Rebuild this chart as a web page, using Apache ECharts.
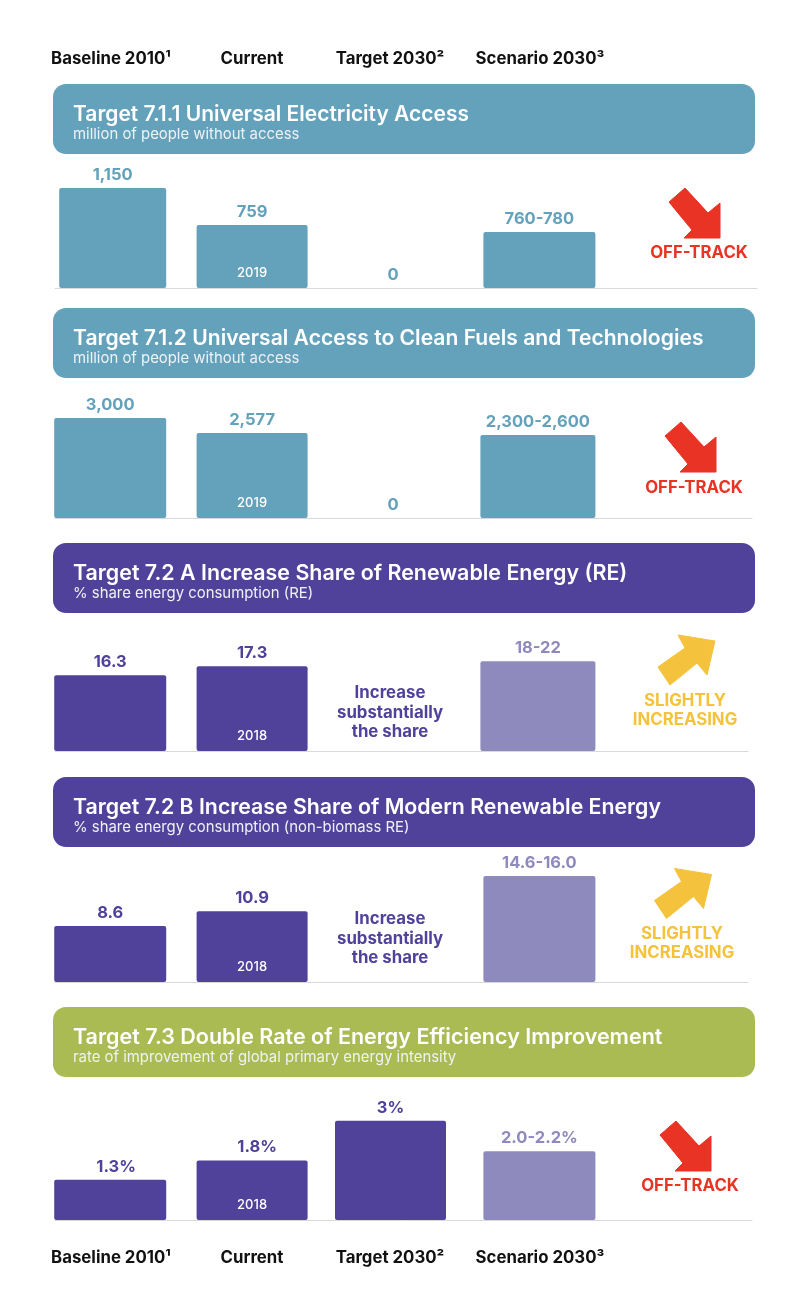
<!DOCTYPE html>
<html>
<head>
<meta charset="utf-8">
<title>SDG 7 targets</title>
<script src="https://cdn.jsdelivr.net/npm/echarts@6/dist/echarts.min.js"></script>
<style>
    html, body { margin: 0; padding: 0; background: #fff; }
    #chart { width: 806px; height: 1305px; }
</style>
</head>
<body>
<div id="chart"></div>
<script>
const categories = ['Baseline 2010¹', 'Current', 'Target 2030²', 'Scenario 2030³'];
const bandNames = categories.concat(['Trend']);

const titles = [
    'Target 7.1.1 Universal Electricity Access',
    'Target 7.1.2 Universal Access to Clean Fuels and Technologies',
    'Target 7.2 A Increase Share of Renewable Energy (RE)',
    'Target 7.2 B Increase Share of Modern Renewable Energy',
    'Target 7.3 Double Rate of Energy Efficiency Improvement'
];
const subtitles = [
    'million of people without access',
    'million of people without access',
    '% share energy consumption (RE)',
    '% share energy consumption (non-biomass RE)',
    'rate of improvement of global primary energy intensity'
];

// bar heights as drawn; the infographic is not strictly to scale, so these differ a bit from the printed labels
const electricityBars = [1150, 725, 0, 644];
const cleanFuelBars = [3000, 2550, 0, 2490];
const renewableBars = [16.3, 18.2, null, 19.3];
const modernBars = [8.6, 10.9, null, 16.3];
const efficiencyBars = [1.22, 1.8, 3, 2.08];

const electricityLabels = ['1,150', '759', '0', '760-780'];
const cleanFuelLabels = ['3,000', '2,577', '0', '2,300-2,600'];
const renewableLabels = ['16.3', '17.3', '', '18-22'];
const modernLabels = ['8.6', '10.9', '', '14.6-16.0'];
const efficiencyLabels = ['1.3%', '1.8%', '3%', '2.0-2.2%'];

const years = ['2019', '2019', '2018', '2018', '2018'];
const statuses = ['OFF-TRACK', 'OFF-TRACK', 'SLIGHTLY\nINCREASING', 'SLIGHTLY\nINCREASING', 'OFF-TRACK'];
const targetNote = ['Increase', 'substantially', 'the share'];

const TEAL = '#64a1bb';
const PURPLE = '#50429a';
const LILAC = '#8e8abd';
const GREEN = '#a9bb52';
const RED = '#e93324';
const YELLOW = '#f4c23c';
const FONT = 'Inter, "Noto Sans", sans-serif';

const panels = [
    { bars: electricityBars, labels: electricityLabels, head: TEAL, colors: [TEAL, TEAL, TEAL, TEAL], headTop: 84, base: 288, max: 1380, height: 120, width: 702, titleSize: 21,
        spans: [[-66, 41], [-69, 42], [-66, 40], [-63, 49]], labelShift: [0, 0, 0, 0], arrow: [0, 0], statusX: 699, statusY: 253 },
    { bars: cleanFuelBars, labels: cleanFuelLabels, head: TEAL, colors: [TEAL, TEAL, TEAL, TEAL], headTop: 308, base: 518, max: 3600, height: 120, width: 697, titleSize: 21.1,
        spans: [[-71, 41], [-69, 42], [-66, 40], [-66, 49]], labelShift: [0, 0, 0, 0], arrow: [-4, 234], statusX: 694, statusY: 488 },
    { bars: renewableBars, labels: renewableLabels, head: PURPLE, colors: [PURPLE, PURPLE, PURPLE, LILAC], headTop: 543, base: 751, max: 26, height: 121, width: 693, titleSize: 21.4,
        spans: [[-71, 41], [-69, 42], [-71, 40], [-66, 49]], labelShift: [0, 0, 0, 0], arrow: [0, 0], statusX: 685, statusY: 701, noteY: 693 },
    { bars: modernBars, labels: modernLabels, head: PURPLE, colors: [PURPLE, PURPLE, PURPLE, LILAC], headTop: 777, base: 982, max: 18, height: 117, width: 693, titleSize: 21.3,
        spans: [[-71, 41], [-69, 42], [-71, 40], [-63, 49]], labelShift: [0, 0, 0, 0], arrow: [-3.5, 233.5], statusX: 682, statusY: 934, noteY: 919 },
    { bars: efficiencyBars, labels: efficiencyLabels, head: GREEN, colors: [PURPLE, PURPLE, PURPLE, LILAC], headTop: 1007, base: 1220, max: 3.6, height: 119, width: 697, titleSize: 21.5,
        spans: [[-71, 41], [-69, 42], [-71, 40], [-63, 49]], labelShift: [6, 5, 0, 0], arrow: [-9, 933], statusX: 690, statusY: 1186 }
];

const GRID_LEFT = 55;
const GRID_WIDTH = 702;
const DOWN_ARROW = [[685, 188], [708, 213], [720, 203], [720, 238], [684, 238], [692, 230], [669, 202]];
const UP_ARROW = [[715, 641], [678, 635], [685, 648], [658, 667], [670, 685], [697, 663], [707, 675]];

function barItem(panel, panelIndex) {
    return function (params, api) {
        const index = api.value(0);
        const value = api.value(1);
        if (isNaN(value)) {
            return null;
        }
        const center = api.coord([index, 0]);
        const top = api.coord([index, value]);
        const span = panel.spans[index];
        // axis line length differs per panel, keep the columns where they were
        const fix = (GRID_WIDTH - panel.width) * (index + 0.5) / bandNames.length;
        const x0 = center[0] + fix + span[0];
        const x1 = center[0] + fix + span[1];
        const children = [];
        if (value > 0) {
            children.push({
                type: 'rect',
                shape: { x: x0, y: top[1], width: x1 - x0, height: center[1] - top[1], r: 2 },
                style: { fill: panel.colors[index] }
            });
        }
        children.push({
            type: 'text',
            style: {
                text: panel.labels[index],
                x: (x0 + x1) / 2 + panel.labelShift[index],
                y: top[1] - 13,
                fill: panel.colors[index],
                font: '700 16.5px ' + FONT,
                align: 'center',
                verticalAlign: 'middle'
            }
        });
        if (index === 1) {
            children.push({
                type: 'text',
                style: {
                    text: years[panelIndex],
                    x: (x0 + x1) / 2,
                    y: center[1] - 15,
                    fill: '#ffffff',
                    font: '500 13px ' + FONT,
                    align: 'center',
                    verticalAlign: 'middle'
                }
            });
        }
        return { type: 'group', children: children };
    };
}

function headerTexts(y) {
    const centers = [111, 252, 390, 540];
    return categories.map(function (name, i) {
        return {
            type: 'text',
            x: centers[i],
            y: y,
            style: { text: name, fill: '#111111', font: '700 16.8px ' + FONT, align: 'center', verticalAlign: 'middle' }
        };
    });
}

function panelGraphics(panel, i) {
    const list = [];
    list.push({
        type: 'rect',
        shape: { x: 53, y: panel.headTop, width: 702, height: 70, r: 13 },
        style: { fill: panel.head }
    });
    list.push({
        type: 'text',
        x: 73,
        y: panel.headTop + 31,
        style: { text: titles[i], fill: '#ffffff', font: '600 ' + panel.titleSize + 'px ' + FONT, verticalAlign: 'middle' }
    });
    list.push({
        type: 'text',
        x: 73,
        y: panel.headTop + 51,
        style: { text: subtitles[i], fill: '#eef3f6', font: '400 14.9px ' + FONT, verticalAlign: 'middle' }
    });

    const up = statuses[i].indexOf('SLIGHTLY') === 0;
    const color = up ? YELLOW : RED;
    const shape = up ? UP_ARROW : DOWN_ARROW;
    list.push({
        type: 'polygon',
        shape: { points: shape.map(function (p) { return [p[0] + panel.arrow[0], p[1] + panel.arrow[1]]; }) },
        style: { fill: color, stroke: color, lineWidth: 1, lineJoin: 'round' }
    });
    statuses[i].split('\n').forEach(function (line, n) {
        list.push({
            type: 'text',
            x: panel.statusX,
            y: panel.statusY + n * 19,
            style: { text: line, fill: color, font: '700 16.8px ' + FONT, align: 'center', verticalAlign: 'middle' }
        });
    });

    if (panel.noteY) {
        targetNote.forEach(function (line, n) {
            list.push({
                type: 'text',
                x: 390,
                y: panel.noteY + n * 19.5,
                style: { text: line, fill: PURPLE, font: '700 16.8px ' + FONT, align: 'center', verticalAlign: 'middle' }
            });
        });
    }
    return list;
}

const chart = echarts.init(document.getElementById('chart'));

let graphics = headerTexts(59).concat(headerTexts(1258));
panels.forEach(function (panel, i) {
    graphics = graphics.concat(panelGraphics(panel, i));
});

const option = {
    backgroundColor: '#ffffff',
    animation: false,
    tooltip: { show: false },
    graphic: graphics,
    grid: panels.map(function (panel) {
        return { left: GRID_LEFT, width: panel.width, top: panel.base - panel.height, height: panel.height };
    }),
    xAxis: panels.map(function (panel, i) {
        return {
            type: 'category',
            gridIndex: i,
            data: bandNames,
            axisTick: { show: false },
            axisLabel: { show: false },
            axisLine: { lineStyle: { color: '#d9d9d9', width: 1 } }
        };
    }),
    yAxis: panels.map(function (panel, i) {
        return { type: 'value', gridIndex: i, min: 0, max: panel.max, show: false };
    }),
    series: panels.map(function (panel, i) {
        return {
            type: 'custom',
            xAxisIndex: i,
            yAxisIndex: i,
            renderItem: barItem(panel, i),
            encode: { x: 0, y: 1 },
            data: panel.bars.map(function (v, n) { return [n, v]; })
        };
    })
};

chart.setOption(option);
</script>
</body>
</html>
